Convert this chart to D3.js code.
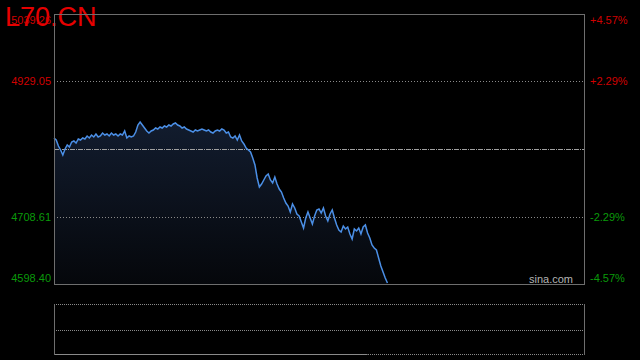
<!DOCTYPE html>
<html>
<head>
<meta charset="utf-8">
<script src="https://cdn.jsdelivr.net/npm/d3@7"></script>
<style>
  body { margin: 0; background: #000; }
  svg { display: block; font-family: "Liberation Sans", Arial, sans-serif; }
</style>
</head>
<body>
<svg></svg>
<script>
var width = 640;
var height = 360;
var plotLeft = 54, plotRight = 584, plotTop = 14, plotBottom = 284;
var volTop = 304, volBottom = 354;

var title = "L70.CN";
var prevClose = 4818.83;
var priceTicks = [5039.26, 4929.05, 4708.61, 4598.40];
var pctTicks = ["+4.57%", "+2.29%", "-2.29%", "-4.57%"];
var totalMinutes = 240;
var volMark = 142;

// one price per minute from the open
var prices = [
  4836.79, 4833.53, 4823.73, 4817.20, 4809.03, 4818.83, 4825.36, 4822.10, 4830.26, 4831.89,
  4828.63, 4835.16, 4833.53, 4836.79, 4835.16, 4840.06, 4836.79, 4841.69, 4838.42, 4843.32,
  4838.42, 4840.06, 4844.95, 4841.69, 4843.32, 4840.06, 4844.95, 4841.69, 4843.32, 4840.06,
  4843.32, 4841.69, 4848.22, 4836.79, 4840.06, 4838.42, 4840.06, 4846.59, 4858.02, 4862.92,
  4858.02, 4853.12, 4848.22, 4844.95, 4848.22, 4849.85, 4853.12, 4851.49, 4854.75, 4853.12,
  4856.38, 4854.75, 4858.02, 4856.38, 4859.65, 4861.28, 4858.02, 4856.38, 4853.12, 4854.75,
  4851.49, 4849.85, 4848.22, 4846.59, 4849.85, 4848.22, 4849.85, 4851.49, 4849.85, 4848.22,
  4849.85, 4846.59, 4844.95, 4848.22, 4849.85, 4848.22, 4851.49, 4849.85, 4844.95, 4846.59,
  4838.42, 4836.79, 4840.06, 4833.53, 4841.69, 4831.89, 4826.99, 4820.46, 4817.20, 4813.93,
  4804.13, 4792.71, 4771.48, 4756.78, 4761.68, 4768.21, 4774.74, 4778.01, 4768.21, 4763.31,
  4773.11, 4761.68, 4753.52, 4748.62, 4738.82, 4730.66, 4725.76, 4715.96, 4729.03, 4722.49,
  4712.70, 4709.43, 4699.64, 4689.84, 4706.17, 4715.96, 4706.17, 4696.37, 4709.43, 4719.23,
  4720.86, 4714.33, 4722.49, 4709.43, 4701.27, 4712.70, 4719.23, 4706.17, 4694.74, 4686.57,
  4683.31, 4693.10, 4688.21, 4691.47, 4680.04, 4671.88, 4688.21, 4684.94, 4689.84, 4680.04,
  4691.47, 4694.74, 4681.67, 4673.51, 4662.08, 4657.18, 4653.92, 4640.85, 4627.79, 4618.00,
  4608.20, 4600.03
];

var red = "#d10000";
var green = "#0a9a0a";
var gridColor = "#8a8a8a";

var svg = d3.select("svg")
    .attr("width", width)
    .attr("height", height);

var xScale = d3.scaleLinear()
                .domain([0, totalMinutes])
                .range([plotLeft, plotRight]);
var yScale = d3.scaleLinear()
                .domain([priceTicks[priceTicks.length - 1], priceTicks[0]])
                .range([plotBottom, plotTop]);

var grad = svg.append("defs")
    .append("linearGradient")
    .attr("id", "fillGrad")
    .attr("gradientUnits", "userSpaceOnUse")
    .attr("x1", 0).attr("x2", 0)
    .attr("y1", yScale(d3.max(prices))).attr("y2", plotBottom);
grad.append("stop").attr("offset", "0%").attr("stop-color", "#121c2e");
grad.append("stop").attr("offset", "100%").attr("stop-color", "#05070b");

// title sits under the top label
svg.append("text")
    .attr("x", 5)
    .attr("y", 26)
    .attr("fill", "#e60000")
    .attr("font-size", 27)
    .text(title);

// area + line
var area = d3.area()
    .x((d, i) => xScale(i))
    .y0(plotBottom)
    .y1(d => yScale(d));
var line = d3.line()
    .x((d, i) => xScale(i))
    .y(d => yScale(d));

svg.append("path")
    .datum(prices)
    .attr("d", area)
    .attr("fill", "url(#fillGrad)");

// grid lines
svg.selectAll(".grid")
    .data(priceTicks.slice(1, 3))
    .enter()
    .append("line")
    .attr("x1", plotLeft).attr("x2", plotRight)
    .attr("y1", d => Math.round(yScale(d)) + 0.5)
    .attr("y2", d => Math.round(yScale(d)) + 0.5)
    .attr("stroke", gridColor)
    .attr("stroke-dasharray", "1,2");

svg.append("line")
    .attr("x1", plotLeft).attr("x2", plotRight)
    .attr("y1", Math.round(yScale(prevClose)) + 0.5)
    .attr("y2", Math.round(yScale(prevClose)) + 0.5)
    .attr("stroke", "#a0a0a0")
    .attr("stroke-dasharray", "5,1,1,1");

svg.append("path")
    .datum(prices)
    .attr("d", line)
    .attr("fill", "none")
    .attr("stroke", "#4b8fe6")
    .attr("stroke-width", 1.5);

// frame
svg.append("rect")
    .attr("x", plotLeft + 0.5)
    .attr("y", plotTop + 0.5)
    .attr("width", plotRight - plotLeft)
    .attr("height", plotBottom - plotTop)
    .attr("fill", "none")
    .attr("stroke", "#6e6e6e");

// left price labels
svg.selectAll(".lbl")
    .data(priceTicks)
    .enter()
    .append("text")
    .attr("x", 51)
    .attr("y", (d, i) => yScale(d) + (i == 0 ? 10 : i == priceTicks.length - 1 ? -2 : 4))
    .attr("text-anchor", "end")
    .attr("font-size", 11)
    .attr("fill", d => d > prevClose ? red : green)
    .text(d => d.toFixed(2));

// right percent labels
svg.selectAll(".pct")
    .data(pctTicks)
    .enter()
    .append("text")
    .attr("x", 590)
    .attr("y", (d, i) => yScale(priceTicks[i]) + (i == 0 ? 10 : i == pctTicks.length - 1 ? -2 : 4))
    .attr("font-size", 11)
    .attr("fill", d => d[0] == "+" ? red : green)
    .text(d => d);

svg.append("text")
    .attr("x", 573)
    .attr("y", 283)
    .attr("text-anchor", "end")
    .attr("font-size", 11)
    .attr("fill", "#b4b4b4")
    .text("sina.com");

// lower panel
var volMid = (volTop + volBottom) / 2 + 0.5;
[volTop, volMid, volBottom].forEach(function(y){
    svg.append("line")
        .attr("x1", plotLeft).attr("x2", plotRight)
        .attr("y1", Math.round(y) + 0.5).attr("y2", Math.round(y) + 0.5)
        .attr("stroke", gridColor)
        .attr("stroke-dasharray", "1,1");
});
svg.append("line")
    .attr("x1", plotLeft).attr("x2", xScale(volMark))
    .attr("y1", volBottom + 0.5).attr("y2", volBottom + 0.5)
    .attr("stroke", gridColor);
[plotLeft, plotRight].forEach(function(x){
    svg.append("line")
        .attr("x1", x + 0.5).attr("x2", x + 0.5)
        .attr("y1", volTop).attr("y2", volBottom + 1)
        .attr("stroke", "#6e6e6e");
});
</script>
</body>
</html>
